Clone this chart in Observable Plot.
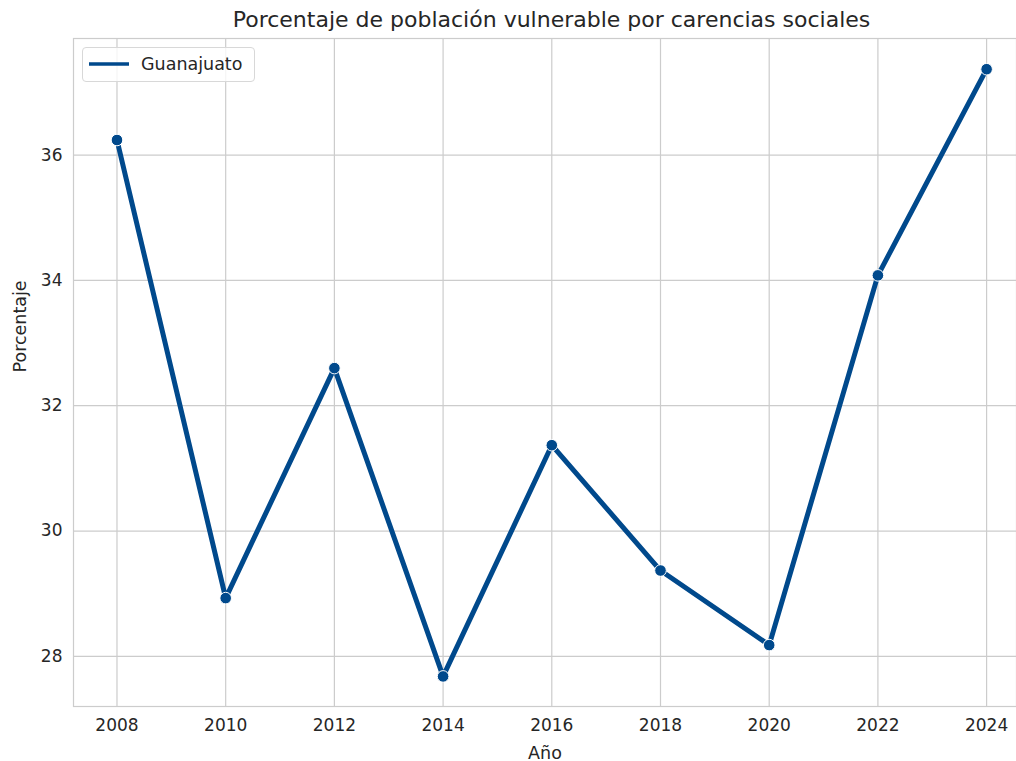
<!DOCTYPE html>
<html>
<head>
<meta charset="utf-8">
<script src="https://cdn.jsdelivr.net/npm/d3@7"></script>
<script src="https://cdn.jsdelivr.net/npm/@observablehq/plot@0.6"></script>
<style>
  html, body { margin: 0; padding: 0; background: #fff; }
  body { width: 1016px; height: 761px; overflow: hidden; font-family: "DejaVu Sans", sans-serif; }
  #wrap { position: relative; width: 1016px; height: 761px; }
  #title { position: absolute; left: 73px; width: 957px; top: 6px; text-align: center; font-size: 22px; color: #262626; line-height: 28px; white-space: nowrap; }
  #chart { position: absolute; left: 0; top: 37px; }
  #legend { position: absolute; left: 82px; top: 47px; width: 173px; height: 35px; border: 1px solid #d8d8d8; border-radius: 4px; background: rgba(255,255,255,0.8); box-sizing: border-box; font-size: 17.5px; color: #262626; }
  #legend svg { position: absolute; left: 5px; top: 14px; }
  #legend span { position: absolute; left: 58px; top: 5px; line-height: 22px; }
</style>
</head>
<body>
<div id="wrap">
  <div id="title"></div>
  <div id="chart"></div>
  <div id="legend"><svg width="42" height="4"><line x1="1" y1="2" x2="41" y2="2" stroke="#00498c" stroke-width="3.5"/></svg><span id="legtext"></span></div>
</div>
<script>
const titleText = "Porcentaje de población vulnerable por carencias sociales";
const xLabel = "Año";
const yLabel = "Porcentaje";
const seriesName = "Guanajuato";
const years = [2008, 2010, 2012, 2014, 2016, 2018, 2020, 2022, 2024];
const values = [36.24, 28.93, 32.60, 27.68, 31.37, 29.37, 28.18, 34.08, 37.37];
const xTicks = [2008, 2010, 2012, 2014, 2016, 2018, 2020, 2022, 2024];
const yTicks = [28, 30, 32, 34, 36];
const lineColor = "#00498c";

document.getElementById("title").textContent = titleText;
document.getElementById("legtext").textContent = seriesName;

const data = years.map((y, i) => ({year: y, value: values[i]}));

const chart = Plot.plot({
  width: 1016,
  height: 724,
  marginTop: 1,
  marginBottom: 55,
  marginLeft: 73,
  marginRight: 0,
  style: {fontFamily: "DejaVu Sans, sans-serif", fontSize: "17px", color: "#262626", background: "#fff"},
  x: {domain: [2007.2, 2024.55]},
  y: {domain: [27.2, 37.86]},
  marks: [
    Plot.gridX(xTicks, {stroke: "#cccccc", strokeOpacity: 1, strokeWidth: 1.2}),
    Plot.gridY(yTicks, {stroke: "#cccccc", strokeOpacity: 1, strokeWidth: 1.2}),
    Plot.frame({stroke: "#cccccc", strokeWidth: 1.2}),
    Plot.axisX(xTicks, {tickSize: 0, tickPadding: 12, fontSize: 17, fill: "#262626", label: null, tickFormat: d => String(d)}),
    Plot.axisY(yTicks, {tickSize: 0, tickPadding: 11, fontSize: 17, fill: "#262626", label: null, tickFormat: d => String(d)}),
    Plot.text([xLabel], {frameAnchor: "bottom", dy: 52, text: d => d, fontSize: 17.5, fill: "#262626"}),
    Plot.text([yLabel], {frameAnchor: "left", dx: -53, rotate: -90, text: d => d, fontSize: 17.5, fill: "#262626"}),
    Plot.line(data, {x: "year", y: "value", stroke: lineColor, strokeWidth: 5}),
    Plot.dot(data, {x: "year", y: "value", r: 5.8, fill: lineColor, stroke: "#fff", strokeWidth: 1})
  ]
});
document.getElementById("chart").appendChild(chart);
</script>
</body>
</html>
